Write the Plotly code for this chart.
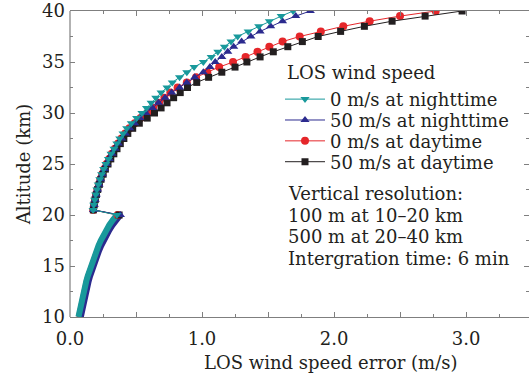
import plotly.graph_objects as go

# Altitude grid (km): 10-20 km band, then 20.5-40 km
alt_low = [10.0, 10.5, 11.0, 11.5, 12.0, 12.5, 13.0, 13.5, 14.0, 14.5, 15.0,
           15.5, 16.0, 16.5, 17.0, 17.5, 18.0, 18.5, 19.0, 19.5, 20.0]
alt_high = [20.5, 21.0, 21.5, 22.0, 22.5, 23.0, 23.5, 24.0, 24.5, 25.0,
            25.5, 26.0, 26.5, 27.0, 27.5, 28.0, 28.5, 29.0, 29.5, 30.0,
            30.5, 31.0, 31.5, 32.0, 32.5, 33.0, 33.5, 34.0, 34.5, 35.0,
            35.5, 36.0, 36.5, 37.0, 37.5, 38.0, 38.5, 39.0, 39.5, 40.0]

# LOS wind speed error (m/s)
night0_low = [0.064, 0.071, 0.078, 0.086, 0.094, 0.103, 0.113, 0.123, 0.134, 0.146, 0.158,
              0.171, 0.185, 0.200, 0.216, 0.233, 0.252, 0.273, 0.297, 0.324, 0.355]
night0_high = [0.175, 0.180, 0.187, 0.195, 0.204, 0.214, 0.226, 0.240, 0.255, 0.272,
               0.291, 0.311, 0.333, 0.355, 0.377, 0.402, 0.430, 0.465, 0.505, 0.545,
               0.580, 0.615, 0.650, 0.690, 0.735, 0.775, 0.830, 0.885, 0.940, 1.010,
               1.070, 1.120, 1.170, 1.220, 1.270, 1.350, 1.430, 1.510, 1.600, 1.690]

night50_low = [0.082, 0.089, 0.096, 0.104, 0.112, 0.121, 0.131, 0.141, 0.152, 0.164, 0.176,
               0.190, 0.204, 0.220, 0.237, 0.255, 0.275, 0.297, 0.322, 0.350, 0.382]
night50_high = [0.178, 0.184, 0.191, 0.199, 0.209, 0.220, 0.232, 0.246, 0.262, 0.279,
                0.298, 0.319, 0.342, 0.366, 0.392, 0.420, 0.452, 0.490, 0.530, 0.575,
                0.625, 0.670, 0.720, 0.770, 0.830, 0.885, 0.945, 1.010, 1.060, 1.100,
                1.150, 1.195, 1.240, 1.300, 1.370, 1.440, 1.520, 1.610, 1.710, 1.820]

day0_low = [0.068, 0.075, 0.082, 0.090, 0.098, 0.107, 0.117, 0.127, 0.138, 0.150, 0.162,
            0.175, 0.189, 0.204, 0.221, 0.238, 0.257, 0.279, 0.303, 0.330, 0.361]
day0_high = [0.176, 0.182, 0.189, 0.197, 0.207, 0.218, 0.230, 0.244, 0.260, 0.277,
             0.296, 0.317, 0.340, 0.364, 0.390, 0.418, 0.450, 0.490, 0.535, 0.585,
             0.630, 0.675, 0.715, 0.760, 0.815, 0.885, 0.955, 1.040, 1.130, 1.235,
             1.330, 1.420, 1.510, 1.610, 1.740, 1.900, 2.070, 2.270, 2.500, 2.770]

day50_low = [0.074, 0.081, 0.088, 0.096, 0.104, 0.113, 0.123, 0.133, 0.144, 0.156, 0.168,
             0.182, 0.196, 0.212, 0.229, 0.247, 0.266, 0.288, 0.313, 0.341, 0.372]
day50_high = [0.177, 0.183, 0.191, 0.200, 0.210, 0.222, 0.235, 0.251, 0.268, 0.288,
              0.309, 0.332, 0.356, 0.381, 0.408, 0.438, 0.475, 0.525, 0.585, 0.640,
              0.690, 0.735, 0.785, 0.835, 0.890, 0.960, 1.050, 1.150, 1.250, 1.340,
              1.440, 1.540, 1.650, 1.760, 1.880, 2.050, 2.230, 2.440, 2.690, 2.970]

series_names = ["0 m/s at nighttime", "50 m/s at nighttime",
                "0 m/s at daytime", "50 m/s at daytime"]
legend_title = "LOS wind speed"
note_lines = ["Vertical resolution:", "100 m at 10\u201320 km",
              "500 m at 20\u201340 km", "Intergration time: 6 min"]

x_tick_vals = [0.0, 0.5, 1.0, 1.5, 2.0, 2.5, 3.0, 3.5]
x_tick_text = ["0.0", "", "1.0", "", "2.0", "", "3.0", ""]
x_minor_vals = [0.25, 0.75, 1.25, 1.75, 2.25, 2.75, 3.25]
y_tick_vals = [10, 15, 20, 25, 30, 35, 40]
y_minor_vals = [12.5, 17.5, 22.5, 27.5, 32.5, 37.5]

FONT = "DejaVu Serif"
TEXT = "#231f20"
AXIS = "#7f7f7f"

styles = {
    series_names[0]: dict(color="#18999b", symbol="triangle-down", size=8),
    series_names[1]: dict(color="#2b2a8e", symbol="triangle-up", size=8),
    series_names[2]: dict(color="#e5262a", symbol="circle", size=8),
    series_names[3]: dict(color="#231f20", symbol="square", size=7),
}
data = {
    series_names[0]: (night0_low, night0_high),
    series_names[1]: (night50_low, night50_high),
    series_names[2]: (day0_low, day0_high),
    series_names[3]: (day50_low, day50_high),
}
# each legend entry sits in its own legend box (pixel row of its centre)
legend_rows = {series_names[0]: 98, series_names[1]: 119,
               series_names[2]: 140, series_names[3]: 161}
legend_ids = {series_names[0]: "legend", series_names[1]: "legend2",
              series_names[2]: "legend3", series_names[3]: "legend4"}

# teal drawn last so it sits on top
draw_order = [series_names[2], series_names[3], series_names[1], series_names[0]]

PLOT_TOP, PLOT_BOTTOM = 9, 317
PLOT_LEFT, PLOT_RIGHT = 70, 529


def py(pixel_row):
    return (PLOT_BOTTOM - pixel_row) / (PLOT_BOTTOM - PLOT_TOP)


def px(pixel_col):
    return (pixel_col - PLOT_LEFT) / (PLOT_RIGHT - PLOT_LEFT)


fig = go.Figure()

# dense 100 m retrievals below 20 km merge into a solid band
for name in draw_order:
    low, _ = data[name]
    st = styles[name]
    fig.add_trace(go.Scatter(x=low, y=alt_low, mode="lines",
                             line=dict(color=st["color"], width=6),
                             showlegend=False, hoverinfo="skip"))

# 500 m retrievals above 20 km, joined to the top of the band
for name in draw_order:
    low, high = data[name]
    st = styles[name]
    fig.add_trace(go.Scatter(
        x=low[-1:] + high, y=alt_low[-1:] + alt_high, mode="lines+markers",
        name=name,
        line=dict(color=st["color"], width=1),
        marker=dict(symbol=st["symbol"], size=st["size"], color=st["color"],
                    line=dict(width=0)),
        legend=legend_ids[name]))

axis_common = dict(
    mirror="ticks", ticks="inside", ticklen=5, tickwidth=1, tickcolor=AXIS,
    showgrid=False, zeroline=False, ticklabeloverflow="allow",
    tickfont=dict(family=FONT, size=18, color=TEXT),
)

fig.update_xaxes(
    range=[0, 3.477], tickmode="array", tickvals=x_tick_vals, ticktext=x_tick_text,
    minor=dict(tickmode="array", tickvals=x_minor_vals, ticks="inside",
               ticklen=3, tickcolor=AXIS),
    showline=True, linecolor=AXIS, linewidth=1.2,
    ticklabelstandoff=5,
    **axis_common)
fig.update_yaxes(
    range=[10, 40], tickmode="array", tickvals=y_tick_vals,
    ticktext=[str(v) for v in y_tick_vals],
    minor=dict(tickmode="array", tickvals=y_minor_vals, ticks="inside",
               ticklen=3, tickcolor=AXIS),
    showline=False,
    title=dict(text="Altitude (km)", font=dict(family=FONT, size=18, color=TEXT),
               standoff=6),
    ticklabelstandoff=4,
    **axis_common)

# left spine only; the right-hand frame lies beyond the visible area
fig.add_shape(type="line", xref="paper", yref="paper", x0=0, x1=0, y0=0, y1=1,
              line=dict(color=AXIS, width=1.2), layer="above")

fig.add_annotation(
    text="LOS wind speed error (m/s)", xref="paper", yref="paper",
    x=px(331), y=py(363), xanchor="center", yanchor="middle", showarrow=False,
    font=dict(family=FONT, size=18, color=TEXT))

fig.add_annotation(
    text=legend_title, xref="paper", yref="paper",
    x=px(285), y=py(71), xanchor="left", yanchor="middle", showarrow=False,
    font=dict(family=FONT, size=18, color=TEXT))

for i, line in enumerate(note_lines):
    fig.add_annotation(
        text=line, xref="paper", yref="paper",
        x=px(286), y=py(193 + 21.7 * i), xanchor="left", yanchor="middle",
        showarrow=False, font=dict(family=FONT, size=18, color=TEXT))

legend_common = dict(
    xanchor="left", yanchor="middle", bgcolor="rgba(0,0,0,0)", itemwidth=40,
    font=dict(family=FONT, size=18, color=TEXT), borderwidth=0)

layout_legends = {}
for name in series_names:
    layout_legends[legend_ids[name]] = dict(
        x=px(280), y=py(legend_rows[name]), **legend_common)

fig.update_layout(
    width=529, height=381,
    margin=dict(l=PLOT_LEFT, r=0, t=PLOT_TOP, b=381 - PLOT_BOTTOM),
    paper_bgcolor="white", plot_bgcolor="white",
    font=dict(family=FONT, size=18, color=TEXT),
    showlegend=True,
    **layout_legends,
)

fig.write_html("out.html")
